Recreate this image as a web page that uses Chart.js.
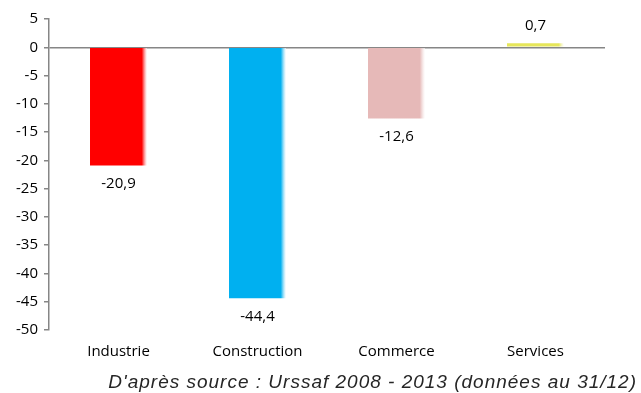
<!DOCTYPE html>
<html>
<head>
<meta charset="utf-8">
<script src="https://cdn.jsdelivr.net/npm/chart.js@4"></script>
<style>
  body { margin: 0; background: #fff; }
  #chart { display: block; }
</style>
</head>
<body>
<canvas id="chart" width="641" height="393"></canvas>
<script>
const categories = ["Industrie", "Construction", "Commerce", "Services"]
const values = [-20.9, -44.4, -12.6, 0.7]
const colors = ["#FF0000", "#00B0F0", "#E6B9B8", "#E6E65A"]
const yTicks = [5, 0, -5, -10, -15, -20, -25, -30, -35, -40, -45, -50]
const source = "D'après source : Urssaf 2008 - 2013 (données au 31/12)"

const tickFont = { family: "Open Sans", size: 15 }

// fade the right edge of each bar a bit, like the excel shading
function barFill(ctx) {
    const chart = ctx.chart
    const base = colors[ctx.dataIndex]
    const x = chart.scales.x
    if (!x || !chart.chartArea) return base
    const cx = x.getPixelForValue(ctx.dataIndex)
    const w = x.width / categories.length * 0.41
    const g = chart.ctx.createLinearGradient(cx - w / 2, 0, cx + w / 2, 0)
    g.addColorStop(0, base)
    g.addColorStop(0.91, base)
    g.addColorStop(1, "rgba(255,255,255,0.6)")
    return g
}

const valueLabels = {
    id: "valueLabels",
    afterDatasetsDraw(chart) {
        const c = chart.ctx
        const meta = chart.getDatasetMeta(0)
        c.save()
        c.font = "15px 'Open Sans'"
        c.fillStyle = "#000"
        c.textAlign = "center"
        c.textBaseline = "middle"
        meta.data.forEach((bar, i) => {
            const v = values[i]
            const txt = String(v).replace(".", ",")
            const y = v < 0 ? bar.y + 18 : bar.y - 18
            c.fillText(txt, bar.x, y)
        })
        c.restore()
    }
}

const footer = {
    id: "footer",
    afterDraw(chart) {
        const c = chart.ctx
        c.save()
        c.font = "italic 19px 'Liberation Sans'"
        c.letterSpacing = "1px"
        c.fillStyle = "#262626"
        c.textAlign = "right"
        c.textBaseline = "middle"
        c.fillText(source, 637, 383)
        c.restore()
    }
}

new Chart(document.getElementById("chart"), {
    type: "bar",
    data: {
        labels: categories,
        datasets: [{
            data: values,
            backgroundColor: barFill,
            borderWidth: 0,
            barPercentage: 0.41,
            categoryPercentage: 1.0,
        }],
    },
    options: {
        responsive: false,
        animation: false,
        layout: { padding: { left: 2, right: 36, top: 19, bottom: 29 } },
        plugins: {
            legend: { display: false },
            tooltip: { enabled: false },
        },
        scales: {
            x: {
                grid: { display: false, drawTicks: false },
                border: { display: false },
                ticks: { font: tickFont, color: "#000", padding: 13 },
                afterFit(scale) { scale.height = 34 },
            },
            y: {
                min: -50,
                max: 5,
                afterBuildTicks(scale) { scale.ticks = yTicks.map(v => ({ value: v })) },
                grid: {
                    color: c => c.tick && c.tick.value === 0 ? "#868686" : "rgba(0,0,0,0)",
                    tickColor: "#868686",
                    tickLength: 5,
                    lineWidth: 1.5,
                },
                border: { color: "#868686", width: 1.5 },
                ticks: { font: tickFont, color: "#000", padding: 6 },
                afterFit(scale) { scale.width = 47 },
            },
        },
    },
    plugins: [valueLabels, footer],
});
</script>
</body>
</html>
